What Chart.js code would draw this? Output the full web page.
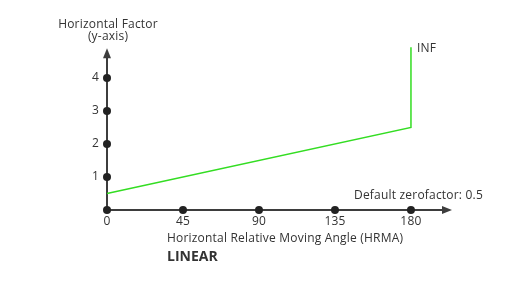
<!DOCTYPE html>
<html lang="en">
  <head>
    <meta charset="UTF-8" />
    <title>Horizontal Factor - Linear</title>
    <script src="https://cdn.jsdelivr.net/npm/chart.js@4"></script>
    <style>
      html, body { margin: 0; padding: 0; background: #fff; }
      #wrap { width: 510px; height: 282px; }
    </style>
  </head>
  <body>
    <div id="wrap"><canvas id="myChart"></canvas></div>

    <script>
      // axis marker values
      const xTicks = [0, 45, 90, 135, 180];
      const yTicks = [1, 2, 3, 4];
      // factor curve: starts at zerofactor, linear to 180, then goes to INF
      const curveX = [0, 180, 180];
      const curveY = [0.5, 2.5, 4.93];

      const axisColor = '#3d3d3d';
      const textColor = '#333';
      const font = '12px "Open Sans", sans-serif';

      const axesPlugin = {
        id: 'axes',
        beforeDatasetsDraw(chart) {
          const ctx = chart.ctx;
          const x = chart.scales.x;
          const y = chart.scales.y;
          const x0 = x.getPixelForValue(0);
          const y0 = y.getPixelForValue(0);
          const xEnd = x.getPixelForValue(x.max);
          const yEnd = y.getPixelForValue(4.9);
          ctx.save();
          ctx.strokeStyle = axisColor;
          ctx.fillStyle = axisColor;
          ctx.lineWidth = 2;
          ctx.beginPath();
          ctx.moveTo(x0, y0);
          ctx.lineTo(xEnd - 8, y0);
          ctx.moveTo(x0, y0);
          ctx.lineTo(x0, yEnd + 8);
          ctx.stroke();
          // arrow heads
          ctx.beginPath();
          ctx.moveTo(xEnd, y0);
          ctx.lineTo(xEnd - 10, y0 - 4);
          ctx.lineTo(xEnd - 10, y0 + 4);
          ctx.closePath();
          ctx.fill();
          ctx.beginPath();
          ctx.moveTo(x0, yEnd);
          ctx.lineTo(x0 - 4, yEnd + 10);
          ctx.lineTo(x0 + 4, yEnd + 10);
          ctx.closePath();
          ctx.fill();
          ctx.restore();
        },
        afterDatasetsDraw(chart) {
          const ctx = chart.ctx;
          const x = chart.scales.x;
          const y = chart.scales.y;
          const x0 = x.getPixelForValue(0);
          const y0 = y.getPixelForValue(0);
          ctx.save();
          ctx.fillStyle = textColor;
          ctx.font = font;
          ctx.letterSpacing = '0.2px';
          ctx.textBaseline = 'middle';
          ctx.textAlign = 'right';
          yTicks.forEach(v => ctx.fillText(String(v), x0 - 8, y.getPixelForValue(v)));
          ctx.textAlign = 'center';
          xTicks.forEach(v => ctx.fillText(String(v), x.getPixelForValue(v), y0 + 12));
          ctx.fillText('Horizontal Factor', 108, 25);
          ctx.fillText('(y-axis)', 108, 37);
          ctx.textAlign = 'left';
          ctx.fillText('Horizontal Relative Moving Angle (HRMA)', 167, 239);
          ctx.textAlign = 'right';
          ctx.fillText('Default zerofactor: 0.5', 483, 196);
          ctx.textAlign = 'left';
          ctx.fillText('INF', x.getPixelForValue(180) + 6, y.getPixelForValue(4.93) + 1);
          ctx.font = 'bold 14px "Open Sans", sans-serif';
          ctx.letterSpacing = '0px';
          ctx.fillText('LINEAR', 167, 257);
          ctx.restore();
        }
      };

      const ctx = document.getElementById('myChart').getContext('2d');
      const myChart = new Chart(ctx, {
        type: 'scatter',
        data: {
          datasets: [
            {
              label: 'Factor',
              data: curveX.map((v, i) => ({ x: v, y: curveY[i] })),
              showLine: true,
              borderColor: '#33dd22',
              borderWidth: 1.5,
              pointRadius: 0,
              fill: false,
              clip: false
            },
            {
              label: 'x markers',
              data: xTicks.map(v => ({ x: v, y: 0 })),
              pointRadius: 4,
              backgroundColor: '#222',
              borderWidth: 0,
              clip: false
            },
            {
              label: 'y markers',
              data: yTicks.map(v => ({ x: 0, y: v })),
              pointRadius: 4,
              backgroundColor: '#222',
              borderWidth: 0,
              clip: false
            }
          ]
        },
        options: {
          responsive: true,
          maintainAspectRatio: false,
          animation: false,
          layout: { padding: { left: 107, right: 58, top: 45, bottom: 72 } },
          scales: {
            x: { type: 'linear', min: 0, max: 204.3, display: false },
            y: { type: 'linear', min: 0, max: 5, display: false }
          },
          plugins: {
            legend: { display: false },
            tooltip: { enabled: false }
          }
        },
        plugins: [axesPlugin]
      });
    </script>
  </body>
</html>
